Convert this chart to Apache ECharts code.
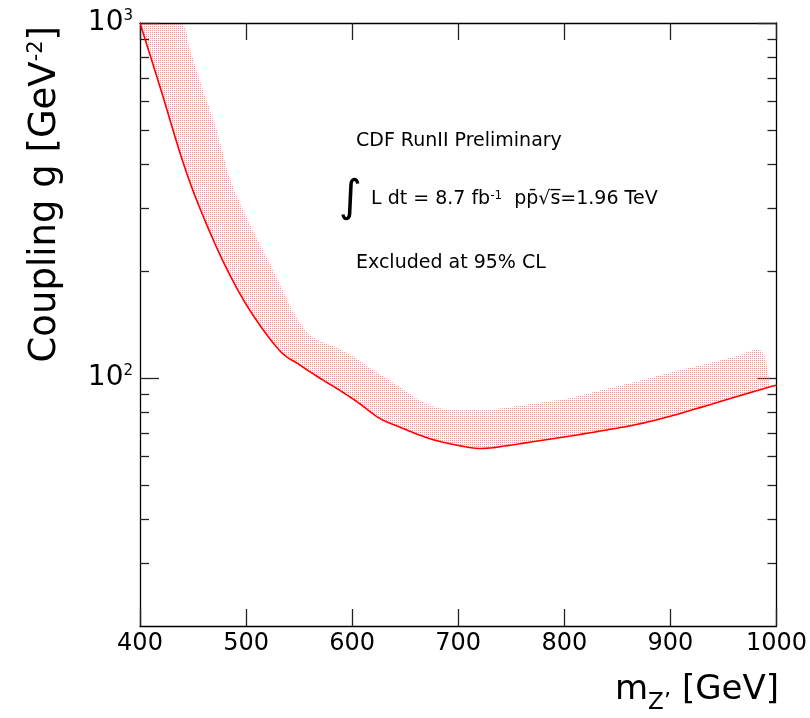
<!DOCTYPE html>
<html><head><meta charset="utf-8">
<script src="https://cdn.jsdelivr.net/npm/echarts@6/dist/echarts.min.js"></script>
<style>html,body{margin:0;padding:0;background:#fff;overflow:hidden;width:810px;height:718px}#c{width:810px;height:718px}</style>
</head><body><div id="c"></div>
<script>
// ---- data ----
const massTicks = [400, 500, 600, 700, 800, 900, 1000];
const couplingMajorTicks = [100, 1000];
const couplingMinorTicks = [30, 40, 50, 60, 70, 80, 90, 200, 300, 400, 500, 600, 700, 800, 900];

// observed 95% CL limit (red line)
const limitMass     = [400, 420, 440, 456, 479, 503, 531, 550, 569, 587, 606, 625, 643, 662, 681, 712, 728, 744, 775, 806, 837, 869, 900, 931, 962, 994, 1000];
const limitCoupling = [1000, 644, 410, 303, 211, 156, 120, 109.1, 100.1, 92.8, 85.1, 77.2, 73.1, 69.3, 66.4, 63.6, 63.4, 64.3, 66.4, 68.6, 71.1, 74, 78, 83, 88.5, 94.4, 95.3];

// upper edge of the shaded excluded band
const bandMass     = [400, 438, 447, 459, 472, 484, 497, 509, 522, 534, 547, 562, 587, 603, 618, 634, 650, 665, 681, 697, 712, 728, 744, 759, 775, 806, 837, 869, 900, 931, 962, 986, 994];
const bandCoupling = [1000, 1000, 842, 650, 501, 370, 298, 251, 211, 178, 149, 131, 121, 114, 106, 99, 92, 86, 82.4, 81.2, 81.2, 81.2, 82.4, 83.6, 85.1, 87.9, 92.8, 97.9, 103.8, 109.1, 115.2, 119, 94.4];

const FONT = 'DejaVu Sans';

// dotted fill pattern
const pc = document.createElement('canvas');
pc.width = 2; pc.height = 2;
const pctx = pc.getContext('2d');
pctx.fillStyle = 'rgba(255,70,70,0.6)';
pctx.fillRect(0, 0, 1, 1);
const bandFill = { image: pc, repeat: 'repeat' };

const chart = echarts.init(document.getElementById('c'), null, { renderer: 'canvas', width: 810, height: 718 });

// Catmull-Rom smoothing of already-projected pixel points (rendering only)
function spline(pts) {
  const out = [];
  const n = pts.length;
  for (let i = 0; i < n - 1; i++) {
    const p0 = pts[Math.max(i - 1, 0)], p1 = pts[i], p2 = pts[i + 1], p3 = pts[Math.min(i + 2, n - 1)];
    const steps = 10;
    for (let s = 0; s < steps; s++) {
      const t = s / steps, t2 = t * t, t3 = t2 * t;
      const f = (a, b, c, d) => 0.5 * ((2 * b) + (-a + c) * t + (2 * a - 5 * b + 4 * c - d) * t2 + (-a + 3 * b - 3 * c + d) * t3);
      out.push([f(p0[0], p1[0], p2[0], p3[0]), f(p0[1], p1[1], p2[1], p3[1])]);
    }
  }
  out.push(pts[n - 1]);
  return out;
}

function render(params, api) {
  const lowerRaw = limitMass.map((m, i) => api.coord([m, limitCoupling[i]]));
  const upperRaw = bandMass.map((m, i) => api.coord([m, bandCoupling[i]]));
  const lower = spline(lowerRaw);
  const upper = spline(upperRaw);
  const endX = upperRaw[upperRaw.length - 1][0];
  const poly = upper.slice();
  for (let i = lower.length - 1; i >= 0; i--) if (lower[i][0] < endX) poly.push(lower[i]);
  return {
    type: 'group',
    children: [
      { type: 'polygon', shape: { points: poly }, style: { fill: bandFill, stroke: null } },
      { type: 'polyline', shape: { points: lower }, style: { stroke: '#ff0000', lineWidth: 1.6, fill: null } }
    ]
  };
}

const axisLineStyle = { color: '#000', width: 1.3 };
const tickStyle = { color: '#222', width: 1.3 };

function xAx(pos, labels) {
  return {
    type: 'value', position: pos, min: 400, max: 1000, interval: 100,
    axisLine: { show: true, onZero: false, lineStyle: axisLineStyle },
    axisTick: { show: true, inside: true, length: 17, lineStyle: tickStyle, customValues: massTicks },
    axisLabel: labels ? { show: true, customValues: massTicks, color: '#000', fontSize: 24, fontFamily: FONT, margin: 6,
                          formatter: v => String(v) } : { show: false },
    splitLine: { show: false }
  };
}
function yAx(pos, major, labels) {
  return {
    type: 'log', logBase: 10, position: pos, min: 20, max: 1000,
    axisLine: { show: major, onZero: false, lineStyle: axisLineStyle },
    axisTick: { show: true, inside: true, length: major ? 19 : 9, lineStyle: tickStyle,
                customValues: major ? couplingMajorTicks : couplingMinorTicks },
    axisLabel: labels ? {
      show: true, customValues: couplingMajorTicks, margin: 7,
      formatter: v => '{b|10}{s|' + Math.round(Math.log10(v)) + '}',
      rich: {
        b: { fontSize: 28, fontFamily: FONT, color: '#000' },
        s: { fontSize: 15, fontFamily: FONT, color: '#000', verticalAlign: 'top', padding: [0, 0, 8, 0] }
      }
    } : { show: false },
    splitLine: { show: false }
  };
}

const option = {
  animation: false,
  backgroundColor: '#fff',
  grid: { left: 140, right: 30, top: 23, bottom: 92 },
  xAxis: [xAx('bottom', true), xAx('top', false)],
  yAxis: [yAx('left', true, true), yAx('left', false, false), yAx('right', true, false), yAx('right', false, false)],
  series: [
    { type: 'custom', name: 'Excluded at 95% CL', xAxisIndex: 0, yAxisIndex: 0, clip: true, silent: true,
      data: [[700, 100]], renderItem: render, z: 2 }
  ],
  graphic: [
    { type: 'text', x: 45, y: 26, rotation: Math.PI / 2,
      style: { text: 'Coupling g [GeV{s|-2}]', fontSize: 37, fontFamily: FONT, fill: '#000',
               align: 'right', verticalAlign: 'middle',
               rich: { s: { fontSize: 21, fontFamily: FONT, fill: '#000', verticalAlign: 'top', padding: [0, 0, 14, 0] } } } },
    { type: 'text', x: 779, y: 690,
      style: { text: 'm{z|Z\u2019} [GeV]', fontSize: 34, fontFamily: FONT, fill: '#000',
               align: 'right', verticalAlign: 'middle',
               rich: { z: { fontSize: 23, fontFamily: FONT, fill: '#000', verticalAlign: 'bottom', padding: [26, 0, 0, 0] } } } },
    { type: 'text', x: 356, y: 141,
      style: { text: 'CDF RunII Preliminary', fontSize: 19, fontFamily: FONT, fill: '#000', align: 'left', verticalAlign: 'middle' } },
    { type: 'text', x: 339, y: 200,
      style: { text: '\u222B', fontSize: 44, fontFamily: FONT, fill: '#000', align: 'left', verticalAlign: 'middle' } },
    { type: 'text', x: 371, y: 199,
      style: { text: 'L dt = 8.7 fb{s|-1}  pp\u0304\u221As\u0305=1.96 TeV', fontSize: 19, fontFamily: FONT, fill: '#000',
               align: 'left', verticalAlign: 'middle',
               rich: { s: { fontSize: 12, fontFamily: FONT, fill: '#000', verticalAlign: 'top', padding: [0, 0, 6, 0] } } } },
    { type: 'text', x: 356, y: 263,
      style: { text: 'Excluded at 95% CL', fontSize: 19, fontFamily: FONT, fill: '#000', align: 'left', verticalAlign: 'middle' } }
  ]
};
chart.setOption(option);
</script>
</body></html>
